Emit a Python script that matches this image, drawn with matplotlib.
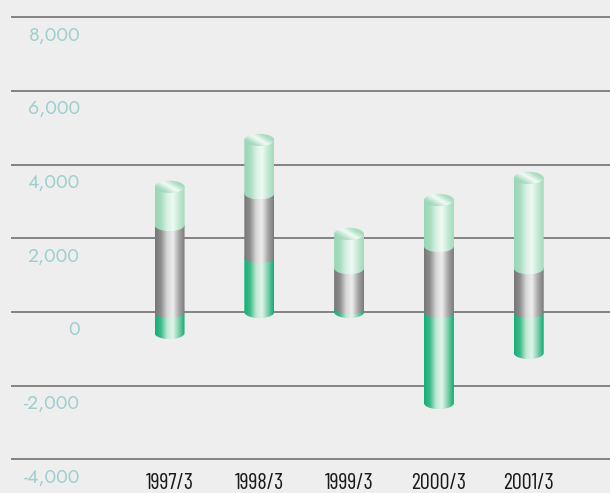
import numpy as np
import matplotlib
matplotlib.use('Agg')
import matplotlib.pyplot as plt
from matplotlib.path import Path
from matplotlib.patches import PathPatch, Ellipse
from matplotlib.colors import LinearSegmentedColormap

# values (three stacked series per year)
years = ['1997/3', '1998/3', '1999/3', '2000/3', '2001/3']
dark_green = [-570, 1490, 100, -2470, -1110]
gray_part = [2360, 1730, 1090, 1790, 1190]
light_green = [1040, 1450, 930, 1250, 2450]
yticks = [8000, 6000, 4000, 2000, 0, -2000, -4000]

BG = '#eeeeee'
# left edge -> highlight -> right edge, for the cylinder look
shades = {
    'dark': ['#14ad78', '#3dbb8a', '#bfe8d2', '#e2f4ea', '#7fd0aa', '#12aa74'],
    'gray': ['#767676', '#8e8e8e', '#d6d6d6', '#eeeeee', '#a8a8a8', '#7a7a7a'],
    'light': ['#98d6b4', '#a6dcbf', '#d8f0e3', '#f0faf4', '#c4e8d4', '#a2dabb'],
}
cap_colors = ['#8fcfae', '#a8dcc0', '#f4fbf7', '#a6dbbe', '#b8e2cb']

fig = plt.figure(figsize=(6.1, 4.93), dpi=100)
fig.patch.set_facecolor(BG)
ax = fig.add_axes([0, 0, 1, 1])
ax.set_facecolor(BG)
xlim = (-1.888, 4.905)
ylim = (-4912, 8467)

# grid lines + value labels sitting under each line
ax.hlines(yticks, -1.766, xlim[1], color='#666666', lw=1.1, zorder=1)
for v in yticks:
    ax.text(-0.997, v - 480, f'{v:,}', ha='right', va='center', color='#9dcfcf',
            fontsize=14, weight='light', family=['Jost', 'Barlow', 'Liberation Sans', 'DejaVu Sans'])

x = np.arange(len(years))
pos_bottom = np.zeros(len(years))
bars = []
for name, vals in [('dark', dark_green), ('gray', gray_part), ('light', light_green)]:
    vals = np.array(vals, dtype=float)
    bottoms = np.where(vals >= 0, pos_bottom, 0)
    b = ax.bar(x, vals, bottom=bottoms, width=0.334)
    pos_bottom = pos_bottom + np.where(vals >= 0, vals, 0)
    for rect in b:
        rect.set_visible(False)
        bars.append((name, rect))

eh = 165  # half height of the ellipses, data units


def seg_path(x0, w, y0, y1):
    t = np.linspace(np.pi, 2 * np.pi, 40)
    xc = x0 + w / 2
    arc = np.column_stack([xc + w / 2 * np.cos(t), y0 + eh * np.sin(t)])
    verts = np.vstack([[x0, y1], [x0, y0], arc, [x0 + w, y1], [x0, y1]])
    codes = [Path.MOVETO] + [Path.LINETO] * (len(verts) - 2) + [Path.CLOSEPOLY]
    return Path(verts, codes)


grad = np.linspace(0, 1, 200).reshape(1, -1)
segs = []
for name, rect in bars:
    y0 = rect.get_y()
    h = rect.get_height()
    lo, hi = min(y0, y0 + h), max(y0, y0 + h)
    segs.append((lo, name, rect, hi))
segs.sort(key=lambda s: s[0])

tops = {}
for lo, name, rect, hi in segs:
    x0, w = rect.get_x(), rect.get_width()
    cmap = LinearSegmentedColormap.from_list(name, shades[name])
    patch = PathPatch(seg_path(x0, w, lo, hi), facecolor='none', edgecolor='none')
    ax.add_patch(patch)
    im = ax.imshow(grad, cmap=cmap, aspect='auto', extent=[x0, x0 + w, lo - eh, hi],
                   zorder=3, interpolation='bicubic')
    im.set_clip_path(patch)
    key = round(x0 + w / 2, 3)
    if key not in tops or hi > tops[key][1]:
        tops[key] = (x0, hi, w)

cap_cmap = LinearSegmentedColormap.from_list('cap', cap_colors)
diag = np.add.outer(np.linspace(1, 0, 50), np.linspace(0, 1.4, 100)) / 2.4
for key, (x0, top, w) in tops.items():
    cap = Ellipse((x0 + w / 2, top), w, 2 * eh, facecolor='none', edgecolor='none')
    ax.add_patch(cap)
    im = ax.imshow(diag, cmap=cap_cmap, aspect='auto',
                   extent=[x0, x0 + w, top - eh, top + eh], zorder=4, interpolation='bicubic')
    im.set_clip_path(cap)

for xi, lab in zip(x, years):
    ax.text(xi, -4660, lab, ha='center', va='center', color='#1a1a1a', fontsize=16,
            family=['Barlow Condensed', 'Archivo Narrow', 'DejaVu Sans'])

ax.set_xlim(*xlim)
ax.set_ylim(*ylim)
ax.axis('off')
fig.savefig('out.png', dpi=100, facecolor=BG)
